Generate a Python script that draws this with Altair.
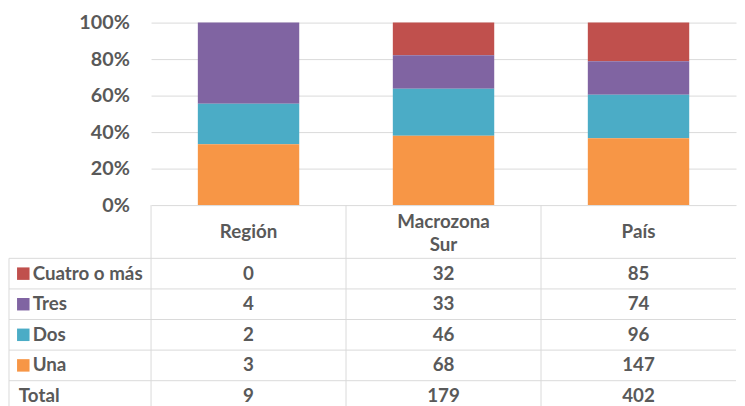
import altair as alt
import pandas as pd

groups = ["Región", "Macrozona Sur", "País"]
header_labels = ["Región", "Macrozona\nSur", "País"]
header_lines = [1, 2, 1]
categories = ["Cuatro o más", "Tres", "Dos", "Una"]
colors = ["#C0504D", "#8064A2", "#4BACC6", "#F79646"]
cuatro = [0, 32, 85]
tres = [4, 33, 74]
dos = [2, 46, 96]
una = [3, 68, 147]
totals = [9, 179, 402]
pct_ticks = [0, 0.2, 0.4, 0.6, 0.8, 1.0]

series = {"Cuatro o más": cuatro, "Tres": tres, "Dos": dos, "Una": una}
row_names = categories + ["Total"]

stack_rows = []
for ci, cat in enumerate(categories):
    for gi, g in enumerate(groups):
        stack_rows.append({"grupo": g, "cat": cat, "n": series[cat][gi], "orden": len(categories) - ci})
df = pd.DataFrame(stack_rows)

table_rows = []
for r in row_names:
    vals = totals if r == "Total" else series[r]
    for gi, g in enumerate(groups):
        table_rows.append({"row": r, "grupo": g, "val": str(vals[gi])})
tdf = pd.DataFrame(table_rows)

hdf = pd.DataFrame({"grupo": groups, "label": header_labels, "lines": header_lines})
cat_df = pd.DataFrame({"row": categories, "cat": categories})
tot_df = pd.DataFrame({"row": ["Total"]})
row_df = pd.DataFrame({"row": row_names})
one = pd.DataFrame({"k": [0]})

W = 593
FONT = "Lato"
GREY = "#595959"
LINE = "#D9D9D9"
FS = 19
LEFT = -144
ROW_STEP = 31
BODY_H = ROW_STEP * len(row_names)
HEAD_H = 54

color_scale = alt.Scale(domain=categories, range=colors)

bars = alt.Chart(df).mark_bar().encode(
    x=alt.X("grupo:N", sort=groups, axis=None,
            scale=alt.Scale(paddingInner=0.48, paddingOuter=0.24)),
    y=alt.Y("n:Q", stack="normalize", scale=alt.Scale(domain=[0, 1]),
            axis=alt.Axis(values=pct_ticks, format="%", domain=False, ticks=False,
                          labelPadding=22, labelFont=FONT, labelFontSize=20,
                          labelFontWeight="bold", labelColor=GREY,
                          gridColor=LINE, title=None)),
    color=alt.Color("cat:N", scale=color_scale, legend=None),
    order=alt.Order("orden:Q"),
).properties(width=W, height=185)

hx = alt.X("grupo:N", sort=groups, axis=None, scale=alt.Scale(paddingInner=0, paddingOuter=0))
head_text1 = alt.Chart(hdf).transform_filter("datum.lines == 1").mark_text(
    font=FONT, fontSize=FS, fontWeight="bold", color=GREY, baseline="middle"
).encode(x=hx, y=alt.value(27), text="label:N")
head_text2 = alt.Chart(hdf).transform_filter("datum.lines == 2").mark_text(
    font=FONT, fontSize=FS, fontWeight="bold", color=GREY, baseline="middle",
    lineBreak="\n", lineHeight=24
).encode(x=hx, y=alt.value(17), text="label:N")
head_lines = alt.Chart(hdf).mark_rule(color=LINE, strokeWidth=1).encode(
    x=alt.X("grupo:N", sort=groups, axis=None, bandPosition=0,
            scale=alt.Scale(paddingInner=0, paddingOuter=0)),
    y=alt.value(0), y2=alt.value(HEAD_H))
header = alt.layer(head_lines, head_text1, head_text2).properties(width=W, height=HEAD_H)

by = alt.Y("row:N", sort=row_names, axis=None,
           scale=alt.Scale(paddingInner=0, paddingOuter=0))
body_vals = alt.Chart(tdf).mark_text(
    font=FONT, fontSize=FS, fontWeight="bold", color=GREY, baseline="middle"
).encode(x=hx, y=by, text="val:N")
body_vlines = alt.Chart(hdf).mark_rule(color=LINE, strokeWidth=1).encode(
    x=alt.X("grupo:N", sort=groups, axis=None, bandPosition=0,
            scale=alt.Scale(paddingInner=0, paddingOuter=0)),
    y=alt.value(0), y2=alt.value(BODY_H))
body_hlines = alt.Chart(row_df).mark_rule(color=LINE, strokeWidth=1).encode(
    y=alt.Y("row:N", sort=row_names, axis=None, bandPosition=0,
            scale=alt.Scale(paddingInner=0, paddingOuter=0)),
    x=alt.value(LEFT), x2=alt.value(W))
left_border = alt.Chart(one).mark_rule(color=LINE, strokeWidth=1).encode(
    x=alt.value(LEFT), y=alt.value(0), y2=alt.value(BODY_H))
squares = alt.Chart(cat_df).mark_square(size=160, opacity=1).encode(
    x=alt.value(-129.5), y=by,
    color=alt.Color("cat:N", scale=color_scale, legend=None))
cat_labels = alt.Chart(cat_df).mark_text(
    font=FONT, fontSize=FS, fontWeight="bold", color=GREY, baseline="middle", align="left"
).encode(x=alt.value(-120), y=by, text="row:N")
tot_label = alt.Chart(tot_df).mark_text(
    font=FONT, fontSize=FS, fontWeight="bold", color=GREY, baseline="middle", align="left"
).encode(x=alt.value(-134), y=by, text="row:N")
body = alt.layer(body_hlines, body_vlines, left_border, squares, cat_labels, tot_label,
                 body_vals).properties(width=W, height=BODY_H)

chart = alt.vconcat(bars, header, body, spacing=0, bounds="flush").resolve_scale(
    x="independent", color="shared"
).properties(
    padding={"left": 0, "top": 2, "right": 0, "bottom": 0}
).configure_view(stroke=None)

chart.save("out.html", embed_options={"renderer": "svg", "actions": False})
